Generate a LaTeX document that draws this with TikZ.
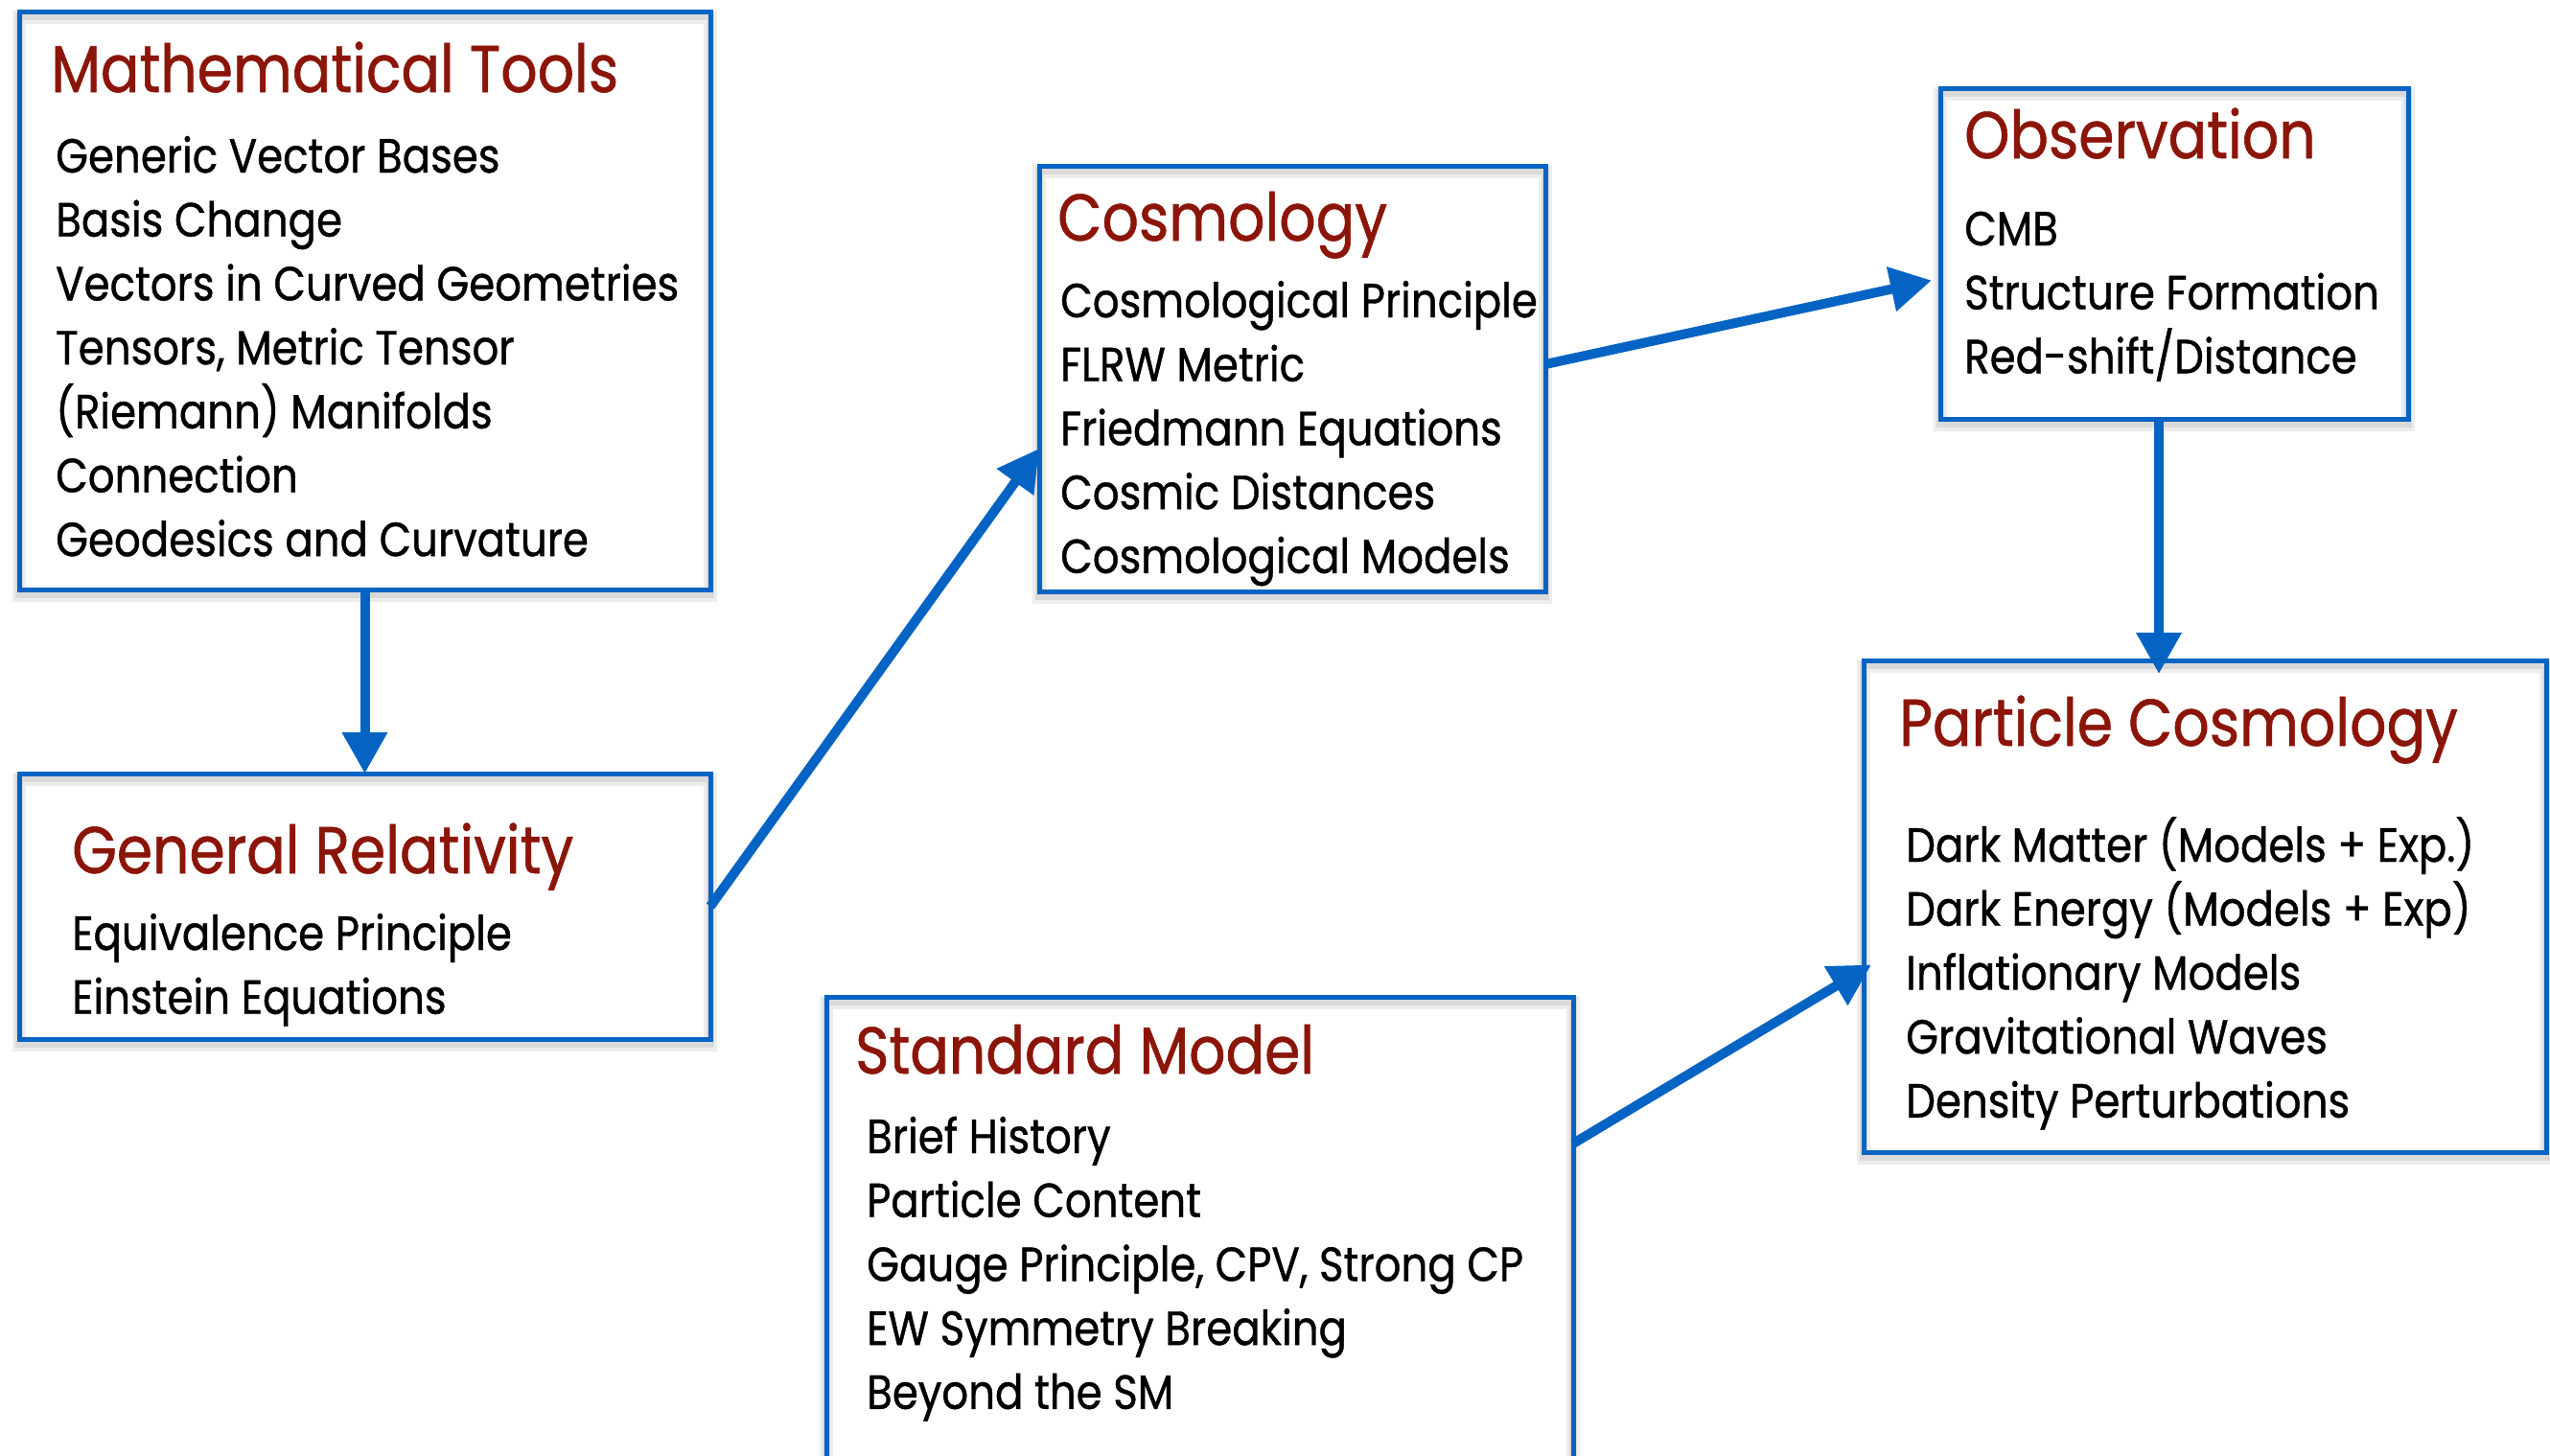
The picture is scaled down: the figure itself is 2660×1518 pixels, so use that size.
\documentclass[tikz,border=0pt]{standalone}
\usepackage{fontspec}
\setmainfont{Poppins}[FakeStretch=0.87,FakeBold=0.8]
\usetikzlibrary{arrows.meta}

\definecolor{boxblue}{RGB}{5,100,195}
\definecolor{titlered}{RGB}{139,21,9}

\tikzset{
  topicbox/.style={draw=boxblue, line width=5pt, inner sep=0pt, outer sep=0pt,
    anchor=north west,
    preaction={draw=black, opacity=0.07, line width=14pt,
      transform canvas={yshift=-6pt}},
    preaction={draw=black, opacity=0.08, line width=8pt,
      transform canvas={yshift=-5pt}}},
  topictitle/.style={anchor=base west, inner sep=0pt, text=titlered,
    font=\fontsize{69}{80}\selectfont},
  topicitem/.style={anchor=base west, inner sep=0pt,
    font=\fontsize{50}{60}\selectfont},
  link/.style={draw=boxblue, line width=10pt,
    -{Triangle[length=43pt,width=45pt]}},
}

\begin{document}
\begin{tikzpicture}[x=1pt,y=-1pt]
  \useasboundingbox (0,0) rectangle (2660,1518);
  \clip (0,0) rectangle (2660,1518);

  % boxes
  \node[topicbox, minimum width=721pt, minimum height=603pt] (mt) at (20,12) {};
  \node[topicbox, minimum width=721pt, minimum height=277pt] (gr) at (20,807) {};
  \node[topicbox, minimum width=528pt, minimum height=444pt] (cosmo) at (1084,173) {};
  \node[topicbox, minimum width=488pt, minimum height=345pt] (obs) at (2024,92) {};
  \node[topicbox, minimum width=712pt, minimum height=513pt] (pc) at (1944,689) {};
  \node[topicbox, minimum width=779pt, minimum height=560pt] (sm) at (862,1040) {};

  % titles
  \node[topictitle] (mt-title) at (53,96) {Mathematical Tools};
  \node[topictitle] (gr-title) at (75,911) {General Relativity};
  \node[topictitle] (cosmo-title) at (1103,251) {Cosmology};
  \node[topictitle] (obs-title) at (2049,165) {Observation};
  \node[topictitle] (pc-title) at (1981,778) {Particle Cosmology};
  \node[topictitle] (sm-title) at (892,1120) {Standard Model};

  % topics
  \foreach \t [count=\i] in {Generic Vector Bases, Basis Change,
      Vectors in Curved Geometries, {Tensors, Metric Tensor},
      (Riemann) Manifolds, Connection, Geodesics and Curvature}
    \node[topicitem] (mt-\i) at (58,{180+66.7*(\i-1)}) {\t};
  \foreach \t [count=\i] in {Equivalence Principle, Einstein Equations}
    \node[topicitem] (gr-\i) at (75,{991+66.7*(\i-1)}) {\t};
  \foreach \t [count=\i] in {Cosmological Principle, FLRW Metric,
      Friedmann Equations, Cosmic Distances, Cosmological Models}
    \node[topicitem] (cosmo-\i) at (1106,{331+66.7*(\i-1)}) {\t};
  \foreach \t [count=\i] in {CMB, Structure Formation, Red-shift/Distance}
    \node[topicitem] (obs-\i) at (2049,{256+66.7*(\i-1)}) {\t};
  \foreach \t [count=\i] in {Dark Matter (Models + Exp.),
      Dark Energy (Models + Exp), Inflationary Models,
      Gravitational Waves, Density Perturbations}
    \node[topicitem] (pc-\i) at (1988,{899+66.7*(\i-1)}) {\t};
  \foreach \t [count=\i] in {Brief History, Particle Content,
      {Gauge Principle, CPV, Strong CP}, EW Symmetry Breaking, Beyond the SM}
    \node[topicitem] (sm-\i) at (904,{1203+66.7*(\i-1)}) {\t};

  % arrows
  \draw[link] (mt.south) -- (gr.north);
  \draw[link] (gr.east) -- ([yshift=-73pt]cosmo.west);
  \draw[link] ([yshift=15pt]cosmo.east) -- ([xshift=-9pt,yshift=-28pt]obs.west);
  \draw[link] ([xshift=-16pt]obs.south) -- ([xshift=-48pt,yshift=-14pt]pc.north);
  \draw[link] ([yshift=127pt]sm.east) -- ([xshift=8pt,yshift=-61pt]pc.west);
\end{tikzpicture}
\end{document}
